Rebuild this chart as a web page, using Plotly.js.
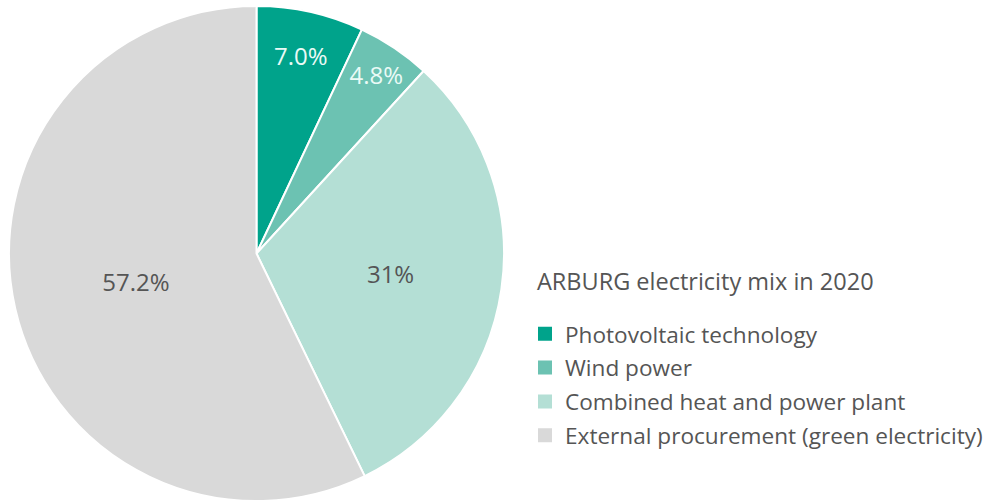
<!DOCTYPE html>
<html>
<head>
<meta charset="utf-8">
<script src="https://cdn.plot.ly/plotly-3.0.1.min.js"></script>
<style>html,body{margin:0;padding:0;background:#fff;}#chart{width:991px;height:501px;}</style>
</head>
<body>
<div id="chart"></div>
<script>
const categories = ["Photovoltaic technology", "Wind power", "Combined heat and power plant", "External procurement (green electricity)"];
const shares = [7.0, 4.8, 31, 57.2];
const shareLabels = ["7.0%", "4.8%", "31%", "57.2%"];
const colors = ["#00a38b", "#6cc2b2", "#b4dfd5", "#d9d9d9"];
const labelColors = ["#eafaf6", "#eafaf6", "#555555", "#555555"];
const chartTitle = "ARBURG electricity mix in 2020";

const FONT = "'Open Sans', 'Noto Sans', sans-serif";

const pie = {
  type: "pie",
  labels: categories,
  values: shares,
  text: shareLabels,
  texttemplate: "%{text}",
  textinfo: "text",
  textposition: "inside",
  insidetextorientation: "horizontal",
  insidetextfont: {family: FONT, size: 24, color: labelColors},
  sort: false,
  direction: "clockwise",
  rotation: 0,
  marker: {colors: colors, line: {color: "#ffffff", width: 2}},
  domain: {x: [9/991, 504/991], y: [0, 1]},
  showlegend: false,
  hoverinfo: "label+percent"
};

const legendTraces = categories.map((c, i) => ({
  type: "scatter",
  x: [null], y: [null],
  mode: "markers",
  name: c,
  legendgroup: "g" + i,
  marker: {symbol: "square", size: 14, color: colors[i]},
  showlegend: true,
  hoverinfo: "skip"
}));

const layout = {
  width: 991, height: 501,
  margin: {l: 0, r: 0, t: 6, b: 0},
  paper_bgcolor: "#ffffff",
  plot_bgcolor: "rgba(0,0,0,0)",
  xaxis: {visible: false},
  yaxis: {visible: false},
  showlegend: true,
  legend: {
    x: 525/991, xanchor: "left",
    y: 1 - (312.5-6)/495, yanchor: "top",
    font: {family: FONT, size: 22.6, color: "#555555"},
    tracegroupgap: 1.5,
    bgcolor: "rgba(0,0,0,0)",
    itemclick: false, itemdoubleclick: false
  },
  annotations: [{
    text: chartTitle,
    xref: "paper", yref: "paper",
    x: 535/991, xanchor: "left",
    y: 1 - (281-6)/495, yanchor: "middle",
    showarrow: false,
    font: {family: FONT, size: 23.5, color: "#555555"}
  }]
};

Plotly.newPlot("chart", [pie].concat(legendTraces), layout, {displayModeBar: false, staticPlot: true});
</script>
</body>
</html>
